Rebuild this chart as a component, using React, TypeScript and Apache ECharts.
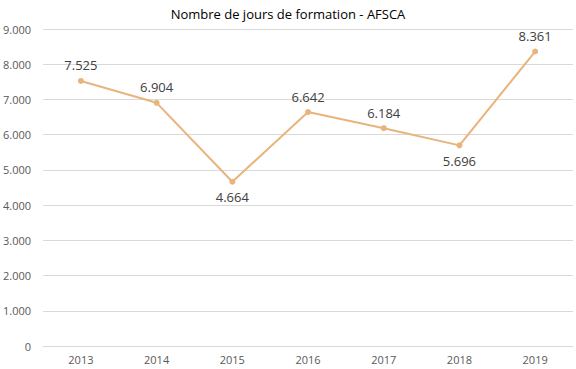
import React, { useEffect, useRef } from "react";
import * as echarts from "echarts";

const title = "Nombre de jours de formation - AFSCA";
const years = ["2013", "2014", "2015", "2016", "2017", "2018", "2019"];
const days = [7525, 6904, 4664, 6642, 6184, 5696, 8361];
const labelBelow = [false, false, true, false, false, true, false];

const fmt = (v: number) => {
  const s = String(Math.round(v));
  return s.replace(/\B(?=(\d{3})+(?!\d))/g, ".");
};

export default function App() {
  const ref = useRef<HTMLDivElement>(null);
  useEffect(() => {
    if (!ref.current) return;
    const chart = echarts.init(ref.current, undefined, { renderer: "svg" });
    chart.setOption({
      animation: false,
      backgroundColor: "#ffffff",
      title: {
        text: title,
        left: "center",
        top: 2,
        textStyle: { fontSize: 13, fontWeight: "normal", color: "#000", fontFamily: "Open Sans" },
      },
      grid: { left: 42, right: 3, top: 29, bottom: 23 },
      xAxis: {
        type: "category",
        data: years,
        boundaryGap: true,
        axisLine: { show: true, lineStyle: { color: "#d9d9d9" } },
        axisTick: { show: false },
        axisLabel: { color: "#595959", fontSize: 11, fontFamily: "Open Sans", margin: 8 },
      },
      yAxis: {
        type: "value",
        min: 0,
        max: 9000,
        interval: 1000,
        axisLine: { show: false },
        axisTick: { show: false },
        splitLine: { lineStyle: { color: "#d9d9d9" } },
        axisLabel: {
          color: "#595959",
          fontSize: 11,
          fontFamily: "Open Sans",
          margin: 12,
          formatter: (v: number) => fmt(v),
        },
      },
      series: [
        {
          type: "line",
          data: days.map((v, i) => ({
            value: v,
            label: { position: labelBelow[i] ? "bottom" : "top" },
          })),
          color: "#E8B47C",
          lineStyle: { width: 2, color: "#E8B47C" },
          symbol: "circle",
          symbolSize: 6,
          itemStyle: { color: "#E8B47C" },
          label: {
            show: true,
            color: "#404040",
            fontSize: 13,
            fontFamily: "Open Sans",
            distance: 6,
            formatter: (p: any) => fmt(p.value),
          },
        },
      ],
    });
    return () => chart.dispose();
  }, []);
  return <div ref={ref} style={{ width: 576, height: 369, position: "absolute", left: 0, top: 0 }} />;
}
